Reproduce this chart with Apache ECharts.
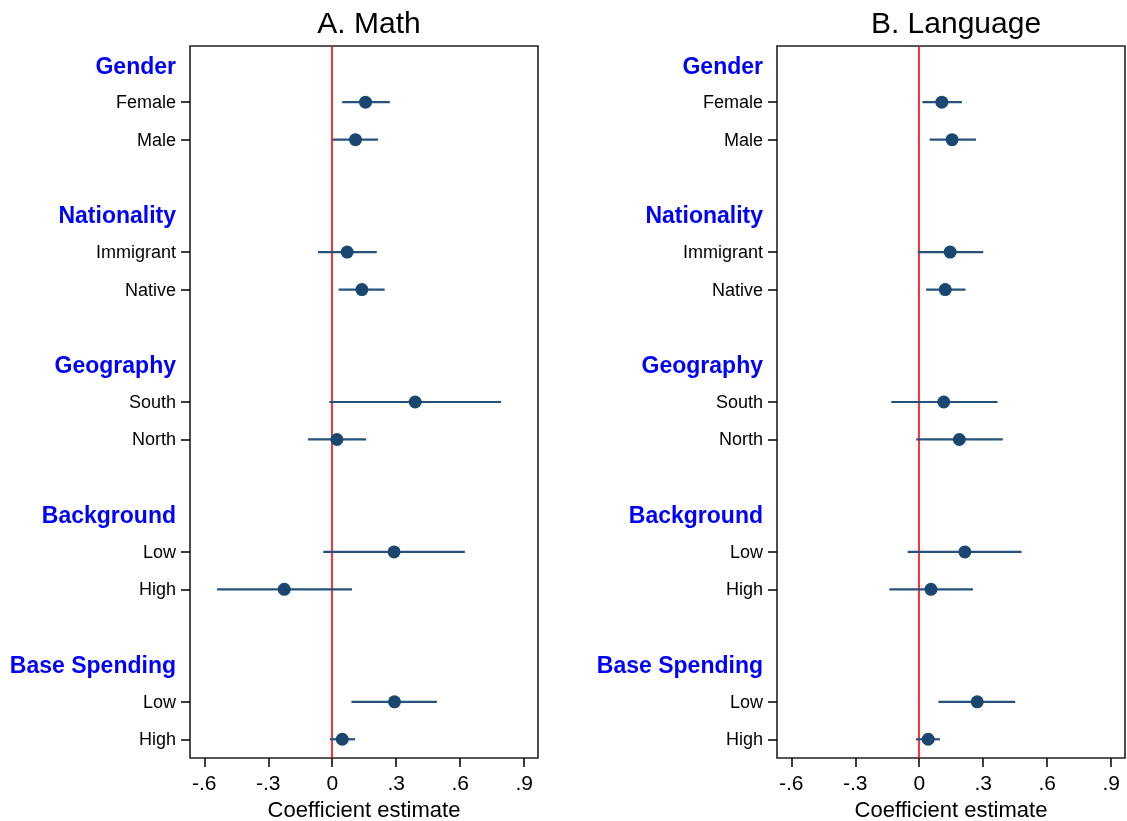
<!DOCTYPE html>
<html>
<head>
<meta charset="utf-8">
<script src="https://cdn.jsdelivr.net/npm/echarts@6/dist/echarts.min.js"></script>
<style>
html,body{margin:0;padding:0;background:#fff;}
#chart{width:1127px;height:821px;}
</style>
</head>
<body>
<div id="chart"></div>
<script>
// ---- data ----
var rowLabels = ['Gender','Female','Male','','Nationality','Immigrant','Native','','Geography','South','North','','Background','Low','High','','Base Spending','Low','High'];
var headerRows = [0,4,8,12,16];
var itemRows = [1,2,5,6,9,10,13,14,17,18];
var panelTitles = ['A. Math','B. Language'];
var xTickValues = [-0.6,-0.3,0,0.3,0.6,0.9];
var xTickLabels = ['-.6','-.3','0','.3','.6','.9'];
var xAxisName = 'Coefficient estimate';

var mathCoef = [0.156,0.109,0.070,0.139,0.389,0.022,0.290,-0.225,0.292,0.047];
var mathLo   = [0.047,0.003,-0.067,0.030,-0.014,-0.114,-0.042,-0.540,0.090,-0.011];
var mathHi   = [0.270,0.215,0.209,0.246,0.792,0.159,0.622,0.093,0.491,0.107];

var langCoef = [0.106,0.154,0.145,0.122,0.115,0.188,0.214,0.055,0.272,0.042];
var langLo   = [0.015,0.049,-0.007,0.032,-0.131,-0.014,-0.054,-0.140,0.090,-0.015];
var langHi   = [0.200,0.266,0.300,0.217,0.367,0.392,0.480,0.252,0.450,0.097];

// ---- build ----
var chart = echarts.init(document.getElementById('chart'), null, {renderer:'canvas'});
var FONT = '"Liberation Sans", Arial, Helvetica, sans-serif';
var dotColor = '#1a476f';
var ciColor = '#24527d';
var allRows = rowLabels.map(function(_, i){ return i; });

function pts(coef){ return coef.map(function(v,i){ return [v, itemRows[i]]; }); }
function cis(lo,hi){ return lo.map(function(v,i){ return [v, hi[i], itemRows[i]]; }); }

var grids = [
  {left:190, right:589, top:46, bottom:63},
  {left:777, right:2, top:46, bottom:63}
];

function xAxisFor(i){
  return {
    type:'value', gridIndex:i, min:-0.667, max:0.965, position:'bottom',
    splitLine:{show:false},
    axisLine:{show:false, onZero:false},
    axisTick:{show:true, length:9, inside:false, customValues:xTickValues, lineStyle:{color:'#000', width:1.5}},
    axisLabel:{show:true, customValues:xTickValues, margin:16, fontSize:21, color:'#000', fontFamily:FONT,
      formatter:function(v){ var k = xTickValues.findIndex(function(t){return Math.abs(t-v)<1e-6;}); return k>=0 ? xTickLabels[k] : ''; }},
    name:xAxisName, nameLocation:'middle', nameGap:36,
    nameTextStyle:{fontSize:22, color:'#000', fontFamily:FONT}
  };
}
function yAxisFor(i){
  return {
    type:'value', gridIndex:i, min:-0.5, max:18.5, inverse:true, position:'left',
    axisLine:{show:false, onZero:false},
    splitLine:{show:false},
    axisTick:{show:true, length:9, customValues:itemRows, lineStyle:{color:'#000', width:1.5}},
    axisLabel:{show:true, customValues:allRows, margin:14, fontFamily:FONT,
      formatter:function(v){
        var idx = Math.round(v);
        var s = rowLabels[idx] || '';
        if (!s) return '';
        if (headerRows.indexOf(idx) >= 0) return '{h|' + s + '}';
        return '{n|' + s + '}';
      },
      rich:{
        h:{color:'#0000ff', fontWeight:'bold', fontSize:23, fontFamily:FONT, padding:[5,0,0,0]},
        n:{color:'#000', fontSize:18, fontFamily:FONT, padding:[2,0,0,0]}
      }
    }
  };
}

function ciSeries(i, lo, hi){
  return {
    type:'custom', xAxisIndex:i, yAxisIndex:i, z:2,
    data:cis(lo,hi),
    dimensions:['lo','hi','row'],
    encode:{x:[0,1], y:2},
    renderItem:function(params, api){
      var a = api.coord([api.value(0), api.value(2)]);
      var b = api.coord([api.value(1), api.value(2)]);
      return {type:'line', shape:{x1:a[0], y1:a[1], x2:b[0], y2:b[1]},
        style:{stroke:ciColor, lineWidth:2.2}};
    }
  };
}
function ptSeries(i, coef){
  return {
    type:'scatter', xAxisIndex:i, yAxisIndex:i, z:3,
    data:pts(coef), symbol:'circle', symbolSize:13,
    itemStyle:{color:dotColor, opacity:1},
    markLine:{silent:true, symbol:'none', label:{show:false}, animation:false, z:1,
      lineStyle:{color:'#ff0000', width:1.6, type:'solid'},
      data:[{xAxis:0}]}
  };
}

var option = {
  animation:false,
  backgroundColor:'#fff',
  textStyle:{fontFamily:FONT},
  title:[
    {text:panelTitles[0], left:364, top:5, textAlign:'center', textStyle:{fontSize:30, fontWeight:'normal', color:'#000', fontFamily:FONT}},
    {text:panelTitles[1], left:951, top:5, textAlign:'center', textStyle:{fontSize:30, fontWeight:'normal', color:'#000', fontFamily:FONT}}
  ],
  grid:grids.map(function(g){ return Object.assign({show:true, containLabel:false, outerBoundsMode:'none', borderColor:'#222', borderWidth:1.6, backgroundColor:'#fff'}, g); }),
  xAxis:[xAxisFor(0), xAxisFor(1)],
  yAxis:[yAxisFor(0), yAxisFor(1)],
  series:[
    ciSeries(0, mathLo, mathHi), ptSeries(0, mathCoef),
    ciSeries(1, langLo, langHi), ptSeries(1, langCoef)
  ]
};
chart.setOption(option);
</script>
</body>
</html>
